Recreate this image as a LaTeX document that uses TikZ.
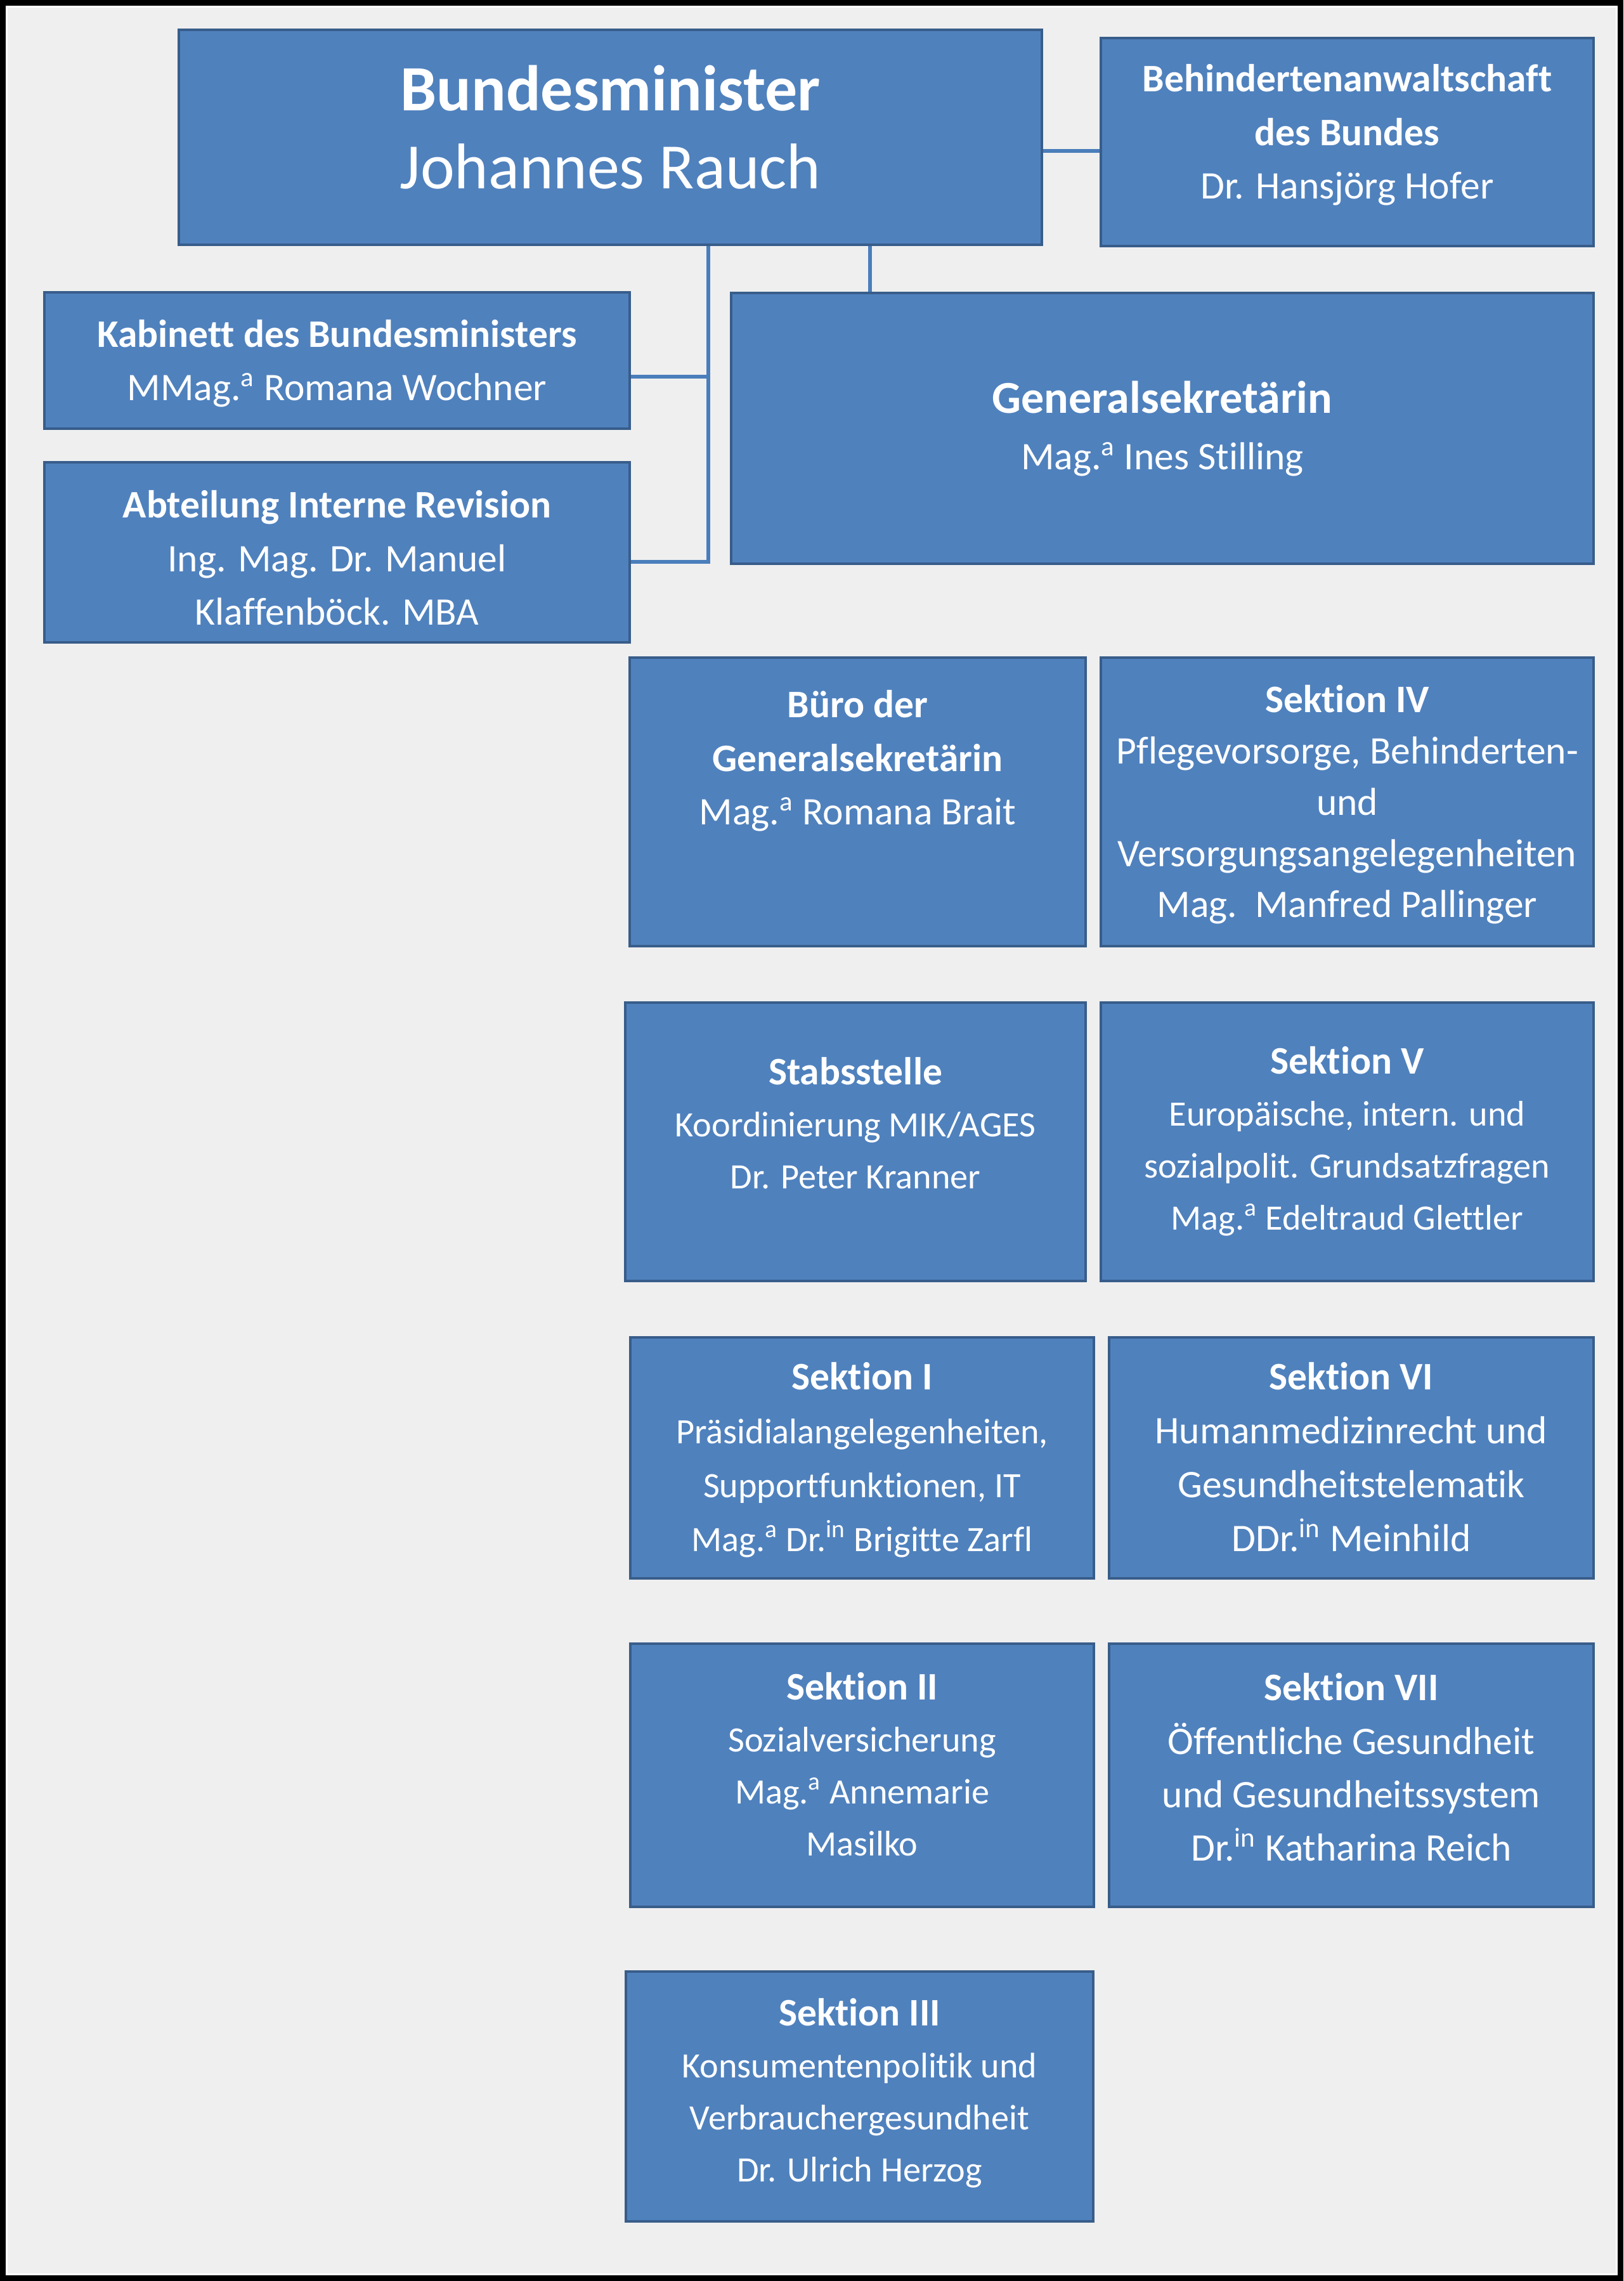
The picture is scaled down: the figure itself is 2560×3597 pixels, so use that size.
\documentclass[tikz,border=0pt]{standalone}
\usepackage{fontspec}
\setmainfont{Carlito}[Ligatures=NoCommon]
\usepackage{tikz}

\definecolor{boxblue}{HTML}{4F81BD}
\definecolor{boxedge}{HTML}{385D8A}
\definecolor{linkblue}{HTML}{4A7EBB}
\definecolor{paper}{HTML}{EFEFEF}
\newcommand{\hoch}[1]{\textsuperscript{#1}}
\newcommand{\kopf}[1]{{\fontsize{17.5}{23.3}\selectfont\textbf{#1}}}

\begin{document}
\begin{tikzpicture}[x=0.1mm, y=-0.1mm,
    box/.style={draw=boxedge, fill=boxblue, line width=0.45mm, inner sep=0pt},
    txt/.style={text=white, align=center, inner sep=0pt},
    big/.style={font=\fontsize{29}{35}\selectfont},
    norm/.style={font=\fontsize{17.5}{24}\selectfont},
    small/.style={font=\fontsize{16}{23.3}\selectfont},
    link/.style={draw=linkblue, line width=0.55mm}]
    \useasboundingbox (0,0) rectangle (2560,3597);
    % frame
    \fill[black] (0,0) rectangle (2560,3597);
    \fill[white] (9,9) rectangle (2551,3588);
    \fill[paper] (12,12) rectangle (2548,3585);

    % top
    \node[box, minimum width=136.1mm, minimum height=33.9mm] (bm) at (962.5,216.5) {};
    \node[txt, big] (bmt) at (962.5,201) {\textbf{Bundesminister}\\Johannes Rauch};
    \node[box, minimum width=77.7mm, minimum height=32.8mm] (baw) at (2124.5,224) {};
    \node[txt, norm] (bawt) at (2124.5,213) {\textbf{Behindertenanwaltschaft}\\\textbf{des Bundes}\\Dr. Hansjörg Hofer};

    \node[box, minimum width=92.3mm, minimum height=21.5mm] (kab) at (531.5,568.5) {};
    \node[txt, norm] (kabt) at (531.5,573) {\textbf{Kabinett des Bundesministers}\\MMag.\hoch{a} Romana Wochner};
    \node[box, minimum width=92.3mm, minimum height=28.4mm] (air) at (531.5,871) {};
    \node[txt, norm] (airt) at (531.5,880) {\textbf{Abteilung Interne Revision}\\Ing. Mag. Dr. Manuel\\Klaffenböck. MBA};

    \node[box, minimum width=136mm, minimum height=42.7mm] (gs) at (1833,675.5) {};
    \node[txt, font=\fontsize{17.5}{25.6}\selectfont] (gst) at (1833,676)
        {{\fontsize{20.5}{25.6}\selectfont\textbf{Generalsekretärin}}\\Mag.\hoch{a} Ines Stilling};

    % left column
    \node[box, minimum width=71.9mm, minimum height=45.5mm] (buero) at (1352.5,1264.5) {};
    \node[txt, norm] (bueroT) at (1352.5,1200) {\textbf{Büro der}\\\textbf{Generalsekretärin}\\Mag.\hoch{a} Romana Brait};
    \node[box, minimum width=72.6mm, minimum height=43.9mm] (stab) at (1349,1800.5) {};
    \node[txt, small] (stabT) at (1349,1771) {\kopf{Stabsstelle}\\Koordinierung MIK/AGES\\Dr. Peter Kranner};
    \node[box, minimum width=73.1mm, minimum height=38mm] (s1) at (1359.5,2299) {};
    \node[txt, font=\fontsize{16}{24.2}\selectfont] (s1T) at (1359.5,2302) {\kopf{Sektion I}\\Präsidialangelegenheiten,\\Supportfunktionen, IT\\Mag.\hoch{a} Dr.\hoch{in} Brigitte Zarfl};
    \node[box, minimum width=73.1mm, minimum height=41.5mm] (s2) at (1359.5,2799.5) {};
    \node[txt, small] (s2T) at (1359.5,2782) {\kopf{Sektion II}\\Sozialversicherung\\Mag.\hoch{a} Annemarie\\Masilko};
    \node[box, minimum width=73.7mm, minimum height=39.4mm] (s3) at (1355.5,3306) {};
    \node[txt, small] (s3T) at (1355.5,3301) {\kopf{Sektion III}\\Konsumentenpolitik und\\Verbrauchergesundheit\\Dr. Ulrich Herzog};

    % right column
    \node[box, minimum width=77.7mm, minimum height=45.5mm] (s4) at (2124.5,1264.5) {};
    \node[txt, font=\fontsize{17.5}{23}\selectfont] (s4T) at (2124.5,1269) {\textbf{Sektion IV}\\Pflegevorsorge, Behinderten-\\und\\Versorgungsangelegenheiten\\Mag.\ \ Manfred Pallinger};
    \node[box, minimum width=77.7mm, minimum height=43.9mm] (s5) at (2124.5,1800.5) {};
    \node[txt, small] (s5T) at (2124.5,1800) {\kopf{Sektion V}\\Europäische, intern. und\\sozialpolit. Grundsatzfragen\\Mag.\hoch{a} Edeltraud Glettler};
    \node[box, minimum width=76.4mm, minimum height=38mm] (s6) at (2131,2299) {};
    \node[txt, font=\fontsize{17.5}{24.2}\selectfont] (s6T) at (2131,2298) {\textbf{Sektion VI}\\Humanmedizinrecht und\\Gesundheitstelematik\\DDr.\hoch{in} Meinhild};
    \node[box, minimum width=76.4mm, minimum height=41.5mm] (s7) at (2131,2799.5) {};
    \node[txt, norm] (s7T) at (2131,2787) {\textbf{Sektion VII}\\Öffentliche Gesundheit\\und Gesundheitssystem\\Dr.\hoch{in} Katharina Reich};

    % connectors
    \coordinate (tk) at (1117,594);
    \coordinate (ta) at (1117,886);
    \coordinate (tg) at (1372,420);
    \coordinate (tb) at (1690,238);
    \draw[link] (bm.south -| tk) -- (ta) -- (air.east |- ta);
    \draw[link] (tk) -- (kab.east |- tk);
    \draw[link] (bm.south -| tg) -- (gs.north -| tg);
    \draw[link] (bm.east |- tb) -- (baw.west |- tb);
\end{tikzpicture}
\end{document}
